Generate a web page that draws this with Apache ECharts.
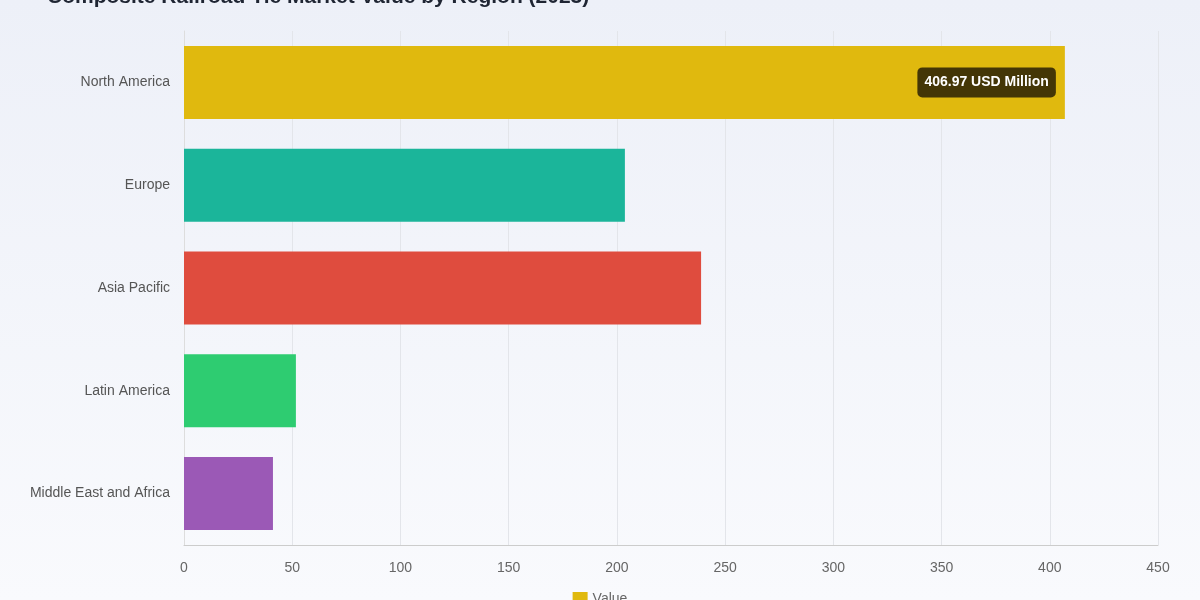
<!DOCTYPE html>
<html><head><meta charset="utf-8">
<script src="https://cdn.jsdelivr.net/npm/echarts@6/dist/echarts.min.js"></script>
<style>html,body{margin:0;padding:0;}#c{width:1200px;height:600px;background:linear-gradient(#edf0f8,#f9fafd);}</style>
</head><body><div id="c"></div>
<script>
const categories = ['North America','Europe','Asia Pacific','Latin America','Middle East and Africa'];
const values = [406.97, 203.7, 238.9, 51.7, 41.1];
const colors = ['#e0b90e','#1bb59a','#df4c3e','#2ecc71','#9b59b6'];
const xTicks = [0,50,100,150,200,250,300,350,400,450];
const FONT = '"Liberation Sans", Arial, sans-serif';

const chart = echarts.init(document.getElementById('c'), null, {renderer:'canvas'});
chart.setOption({
  backgroundColor: 'transparent',
  title: {text:'Composite Railroad Tie Market Value by Region (2023)', left:42, top:-18,
    textStyle:{fontFamily:FONT, fontSize:21, fontWeight:'bold', color:'#1f2533'}},
  legend: {bottom:-12, left:'center', itemWidth:15, itemHeight:15, icon:'rect',
    textStyle:{color:'#666', fontSize:14, fontFamily:FONT}, data:['Value']},
  grid: {left:184, right:42, top:31, bottom:55},
  xAxis: {type:'value', min:xTicks[0], max:xTicks[xTicks.length-1], interval:50,
    axisLine:{show:true, lineStyle:{color:'#ccc'}}, axisTick:{show:false},
    axisLabel:{color:'#666', fontSize:14, margin:16, fontFamily:FONT},
    splitLine:{show:true, lineStyle:{color:'#e3e5ea'}}},
  yAxis: {type:'category', data:categories, inverse:true,
    axisLine:{show:true, lineStyle:{color:'#ddd'}}, axisTick:{show:false},
    axisLabel:{color:'#555', fontSize:14, margin:14, fontFamily:FONT}},
  series: [{
    name:'Value', type:'bar', barWidth:'71%',
    itemStyle:{color:colors[0]},
    data: values.map((v,i)=>({value:v, itemStyle:{color:colors[i]},
      label: i===0 ? {show:true, position:'insideRight', offset:[-4,0],
        formatter: p => p.value.toFixed(2)+' USD Million',
        color:'#fff', fontWeight:'bold', fontSize:14, fontFamily:FONT,
        backgroundColor:'rgba(40,30,5,0.85)', borderRadius:5, padding:[8,7]} : {show:false}}))
  }]
});
</script></body></html>
